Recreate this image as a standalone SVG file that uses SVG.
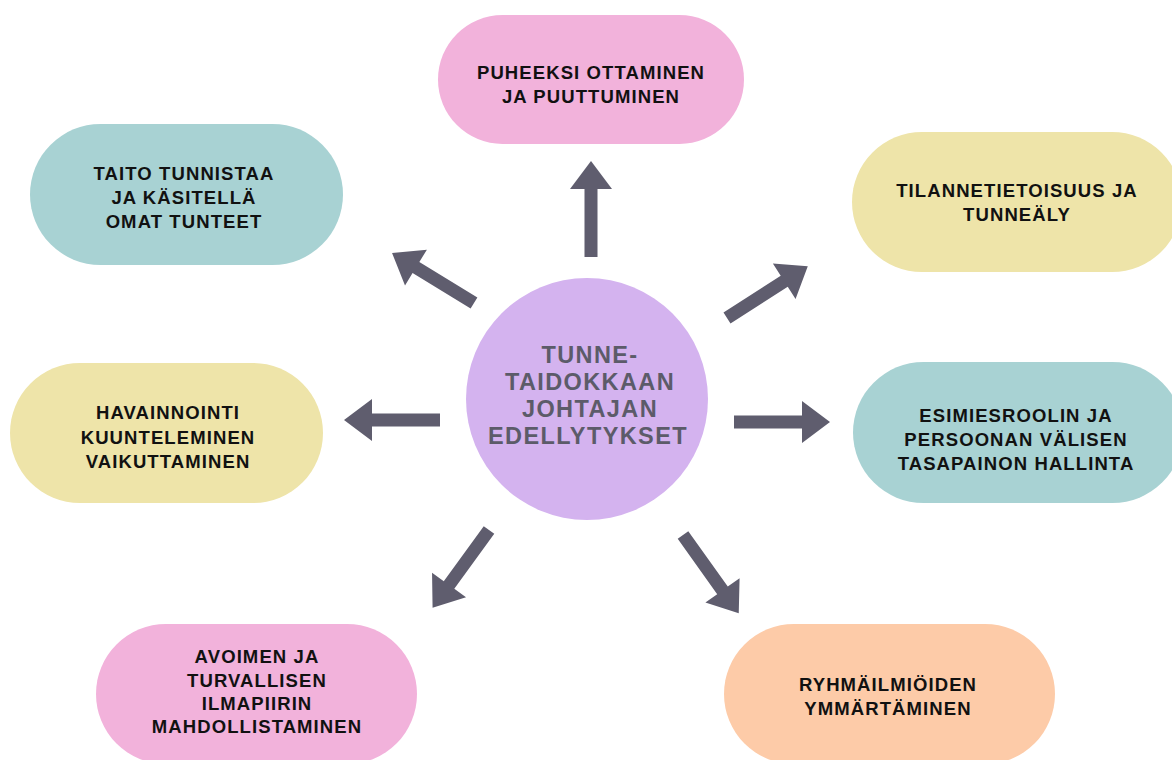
<svg xmlns="http://www.w3.org/2000/svg" xmlns:xlink="http://www.w3.org/1999/xlink" width="1172" height="760" viewBox="0 0 1172 760">
<style>
.pink{fill:#f2b2db}
.teal{fill:#a8d2d3}
.yellow{fill:#eee4a9}
.peach{fill:#fdcba8}
.hub{fill:#d4b3ef}
.lbl{font-family:"Liberation Sans",Arial,sans-serif;font-weight:bold;font-size:18.5px;letter-spacing:1.1px;fill:#111111;text-anchor:middle}
.hubtxt{font-family:"Liberation Sans",Arial,sans-serif;font-weight:bold;font-size:23.5px;letter-spacing:1.4px;fill:#5c5b69;text-anchor:middle}
.arr{fill:#5f5d6e}
</style>
<defs>
<path id="arrow" d="M0,-6.5 H68 V-21 L96,0 L68,21 V6.5 H0 Z"/>
</defs>
<rect width="1172" height="760" fill="#ffffff"/>

<g id="connectors" class="arr">
<use xlink:href="#arrow" href="#arrow" transform="translate(591,257) rotate(-90)"/>
<use xlink:href="#arrow" href="#arrow" transform="translate(474,303) rotate(211.4)"/>
<use xlink:href="#arrow" href="#arrow" transform="translate(727,318) rotate(-32.7)"/>
<use xlink:href="#arrow" href="#arrow" transform="translate(440,420) rotate(180)"/>
<use xlink:href="#arrow" href="#arrow" transform="translate(734,422)"/>
<use xlink:href="#arrow" href="#arrow" transform="translate(489,530) rotate(126)"/>
<use xlink:href="#arrow" href="#arrow" transform="translate(683,535) rotate(54.5)"/>
</g>

<g id="hub">
<circle class="hub" cx="587" cy="399" r="121"/>
<text class="hubtxt" x="590" y="363">TUNNE-</text>
<text class="hubtxt" x="590" y="390">TAIDOKKAAN</text>
<text class="hubtxt" x="590" y="417">JOHTAJAN</text>
<text class="hubtxt" x="588" y="444">EDELLYTYKSET</text>
</g>

<g id="node-puheeksi">
<rect class="pink" x="438" y="15" width="306" height="129" rx="64.5"/>
<text class="lbl" x="591" y="79">PUHEEKSI OTTAMINEN</text>
<text class="lbl" x="591" y="103">JA PUUTTUMINEN</text>
</g>

<g id="node-taito">
<rect class="teal" x="30" y="124" width="313" height="141" rx="70.5"/>
<text class="lbl" x="184" y="180">TAITO TUNNISTAA</text>
<text class="lbl" x="184" y="204">JA KÄSITELLÄ</text>
<text class="lbl" x="184" y="228">OMAT TUNTEET</text>
</g>

<g id="node-tilanne">
<rect class="yellow" x="852" y="132" width="330" height="140" rx="70"/>
<text class="lbl" x="1017" y="197">TILANNETIETOISUUS JA</text>
<text class="lbl" x="1017" y="221">TUNNEÄLY</text>
</g>

<g id="node-havainnointi">
<rect class="yellow" x="10" y="363" width="313" height="140" rx="70"/>
<text class="lbl" x="168" y="419">HAVAINNOINTI</text>
<text class="lbl" x="168" y="444">KUUNTELEMINEN</text>
<text class="lbl" x="168" y="468">VAIKUTTAMINEN</text>
</g>

<g id="node-esimies">
<rect class="teal" x="853" y="362" width="330" height="141" rx="70.5"/>
<text class="lbl" x="1016" y="422">ESIMIESROOLIN JA</text>
<text class="lbl" x="1016" y="446">PERSOONAN VÄLISEN</text>
<text class="lbl" x="1016" y="470">TASAPAINON HALLINTA</text>
</g>

<g id="node-avoimen">
<rect class="pink" x="96" y="624" width="321" height="140" rx="70"/>
<text class="lbl" x="257" y="663">AVOIMEN JA</text>
<text class="lbl" x="257" y="687">TURVALLISEN</text>
<text class="lbl" x="257" y="710">ILMAPIIRIN</text>
<text class="lbl" x="257" y="733">MAHDOLLISTAMINEN</text>
</g>

<g id="node-ryhma">
<rect class="peach" x="724" y="624" width="331" height="140" rx="70"/>
<text class="lbl" x="888" y="691">RYHMÄILMIÖIDEN</text>
<text class="lbl" x="888" y="715">YMMÄRTÄMINEN</text>
</g>
</svg>
